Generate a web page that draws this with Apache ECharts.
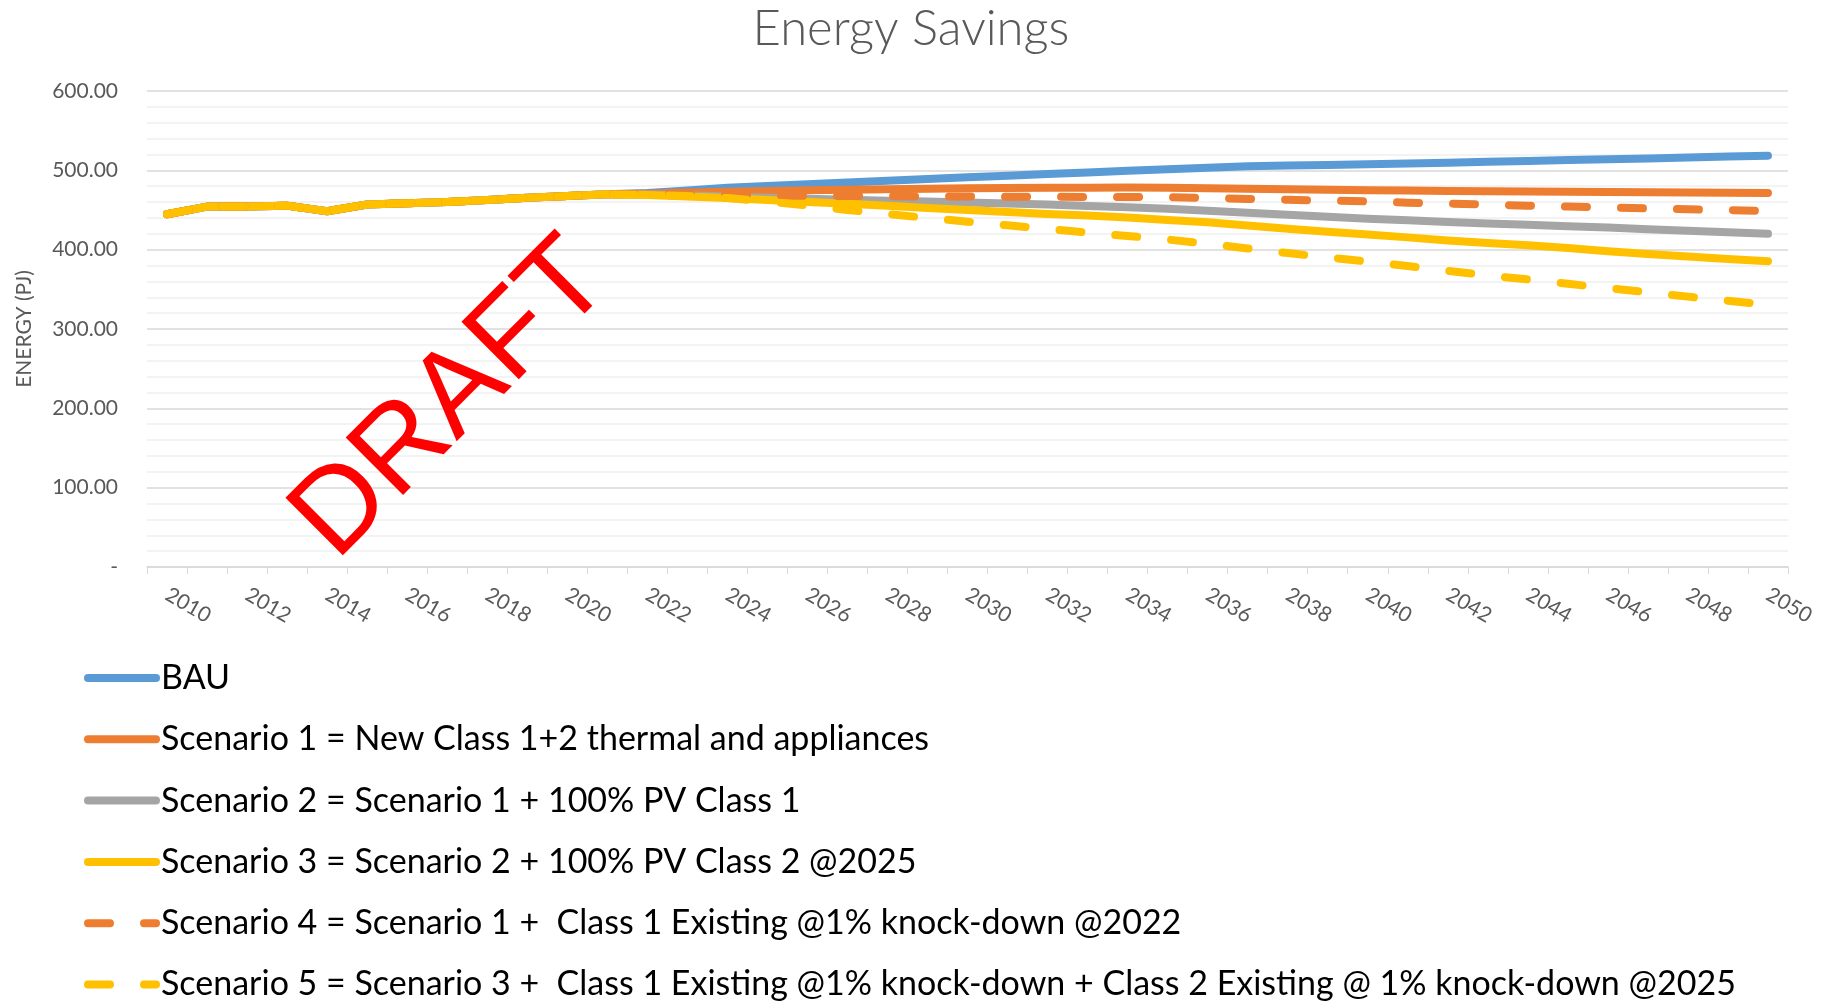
<!DOCTYPE html>
<html><head><meta charset="utf-8">
<script src="https://cdn.jsdelivr.net/npm/echarts@6/dist/echarts.min.js"></script>
<style>html,body{margin:0;padding:0;background:#fff}#c{width:1822px;height:1003px}</style>
</head><body><div id="c"></div>
<script>
const years = ['2010','2011','2012','2013','2014','2015','2016','2017','2018','2019','2020',
  '2021','2022','2023','2024','2025','2026','2027','2028','2029','2030','2031','2032','2033',
  '2034','2035','2036','2037','2038','2039','2040','2041','2042','2043','2044','2045','2046',
  '2047','2048','2049','2050'];
// shared history 2010-2021
const history = [444.6, 454.3, 454.5, 455.5, 448.5, 457.0, 458.4, 460.1, 462.6, 465.5, 467.7, 469.8];
// projections 2022-2050
const bau = [471.5, 474.5, 478.0, 480.2, 482.4, 484.6, 486.8, 489.0, 491.2, 493.3, 495.3, 497.4, 499.4, 501.4, 503.4, 505.0, 506.0, 506.8, 507.6, 508.6, 509.7, 510.8, 511.8, 512.9, 513.9, 515.0, 516.2, 517.3, 518.5];
const sc1 = [470.5, 472.0, 473.0, 474.0, 474.8, 475.5, 476.2, 476.8, 477.3, 477.7, 478.0, 478.2, 478.3, 478.0, 477.4, 476.8, 476.2, 475.5, 474.9, 474.5, 474.1, 473.7, 473.4, 473.0, 472.7, 472.4, 472.0, 471.7, 471.4];
const sc2 = [469.5, 468.5, 467.0, 465.5, 464.3, 463.0, 461.8, 460.6, 459.4, 458.2, 457.0, 455.0, 453.5, 451.5, 449.2, 446.5, 444.0, 441.5, 439.0, 437.0, 435.0, 433.0, 431.5, 429.5, 427.8, 425.8, 423.8, 421.9, 420.0];
const sc3 = [469.0, 467.0, 465.0, 462.6, 460.2, 457.8, 455.3, 452.5, 450.0, 447.5, 445.0, 443.0, 440.5, 437.5, 434.5, 430.5, 426.5, 422.5, 419.0, 415.5, 411.5, 408.3, 405.5, 402.0, 398.0, 394.5, 391.3, 388.3, 385.3];
const sc4 = [470.5, 470.0, 469.3, 468.5, 468.0, 467.7, 467.3, 467.0, 466.9, 466.8, 466.6, 466.5, 466.5, 466.2, 465.3, 464.0, 462.9, 461.9, 460.8, 459.2, 458.1, 456.9, 455.4, 454.3, 453.2, 452.0, 450.8, 449.9, 448.8];
const sc5 = [469.0, 467.5, 465.0, 461.0, 455.5, 450.0, 445.0, 440.0, 435.3, 430.7, 426.0, 421.5, 417.2, 412.8, 407.3, 401.5, 395.7, 390.2, 385.0, 379.4, 373.3, 367.5, 362.5, 357.0, 351.5, 346.2, 340.8, 335.7, 330.5];
const seriesNames = [
  'BAU',
  'Scenario 1 = New Class 1+2 thermal and appliances',
  'Scenario 2 = Scenario 1 + 100% PV Class 1',
  'Scenario 3 = Scenario 2 + 100% PV Class 2 @2025',
  'Scenario 4 = Scenario 1 +  Class 1 Existing @1% knock-down @2022',
  'Scenario 5 = Scenario 3 +  Class 1 Existing @1% knock-down + Class 2 Existing @ 1% knock-down @2025'
];
const yTickValues = [0, 100, 200, 300, 400, 500, 600];
const yTickLabels = ['-', '100.00', '200.00', '300.00', '400.00', '500.00', '600.00'];

const FONT = 'Lato, "Liberation Sans", sans-serif';
const colors = ['#5B9BD5', '#ED7D31', '#A5A5A5', '#FFC000', '#ED7D31', '#FFC000'];
const tails = [bau, sc1, sc2, sc3, sc4, sc5];
const dashed = [false, false, false, false, true, true];

const series = seriesNames.map((n, i) => ({
  name: n, type: 'line', symbol: 'none', color: colors[i],
  data: history.concat(tails[i]),
  lineStyle: { color: colors[i], width: 8, cap: 'round', join: 'round', type: dashed[i] ? [22, 34] : 'solid' },
  emphasis: { disabled: true }
}));

const chart = echarts.init(document.getElementById('c'), null, { renderer: 'canvas' });
chart.setOption({
  animation: false,
  backgroundColor: '#fff',
  title: { text: 'Energy Savings', left: 'center', top: 0,
    textStyle: { fontFamily: FONT, fontSize: 49, fontWeight: 300, color: '#595959' } },
  grid: { left: 147, right: 34, top: 91, bottom: 436 },
  xAxis: {
    type: 'category', data: years, boundaryGap: true,
    axisLine: { lineStyle: { color: '#d9d9d9', width: 1.5 } },
    axisTick: { show: true, interval: 0, length: 7, lineStyle: { color: '#d9d9d9' } },
    axisLabel: { interval: 1, rotate: -30, margin: 26, fontFamily: FONT, fontSize: 21, color: '#595959' },
    splitLine: { show: false }
  },
  yAxis: {
    type: 'value', min: 0, max: 600, interval: 100,
    name: 'ENERGY (PJ)', nameLocation: 'middle', nameGap: 112,
    nameTextStyle: { fontFamily: FONT, fontSize: 21, color: '#595959' },
    axisLine: { show: false }, axisTick: { show: false },
    axisLabel: { margin: 29, fontFamily: FONT, fontSize: 21, color: '#595959',
      formatter: v => { const k = yTickValues.indexOf(v); return k >= 0 ? yTickLabels[k] : ''; } },
    splitLine: { lineStyle: { color: '#d9d9d9', width: 1.5 } },
    minorTick: { show: false, splitNumber: 5 },
    minorSplitLine: { show: true, lineStyle: { color: '#efefef', width: 1.5 } }
  },
  legend: {
    orient: 'vertical', left: 84, top: 660, padding: 0, itemWidth: 68, itemHeight: 20, itemGap: 25.3,
    data: seriesNames, selectedMode: false,
    itemStyle: { opacity: 0 },
    lineStyle: { width: 8, cap: 'round' },
    textStyle: { fontFamily: FONT, fontSize: 34, color: '#000', lineHeight: 36 }
  },
  series: series,
  graphic: [{
    type: 'text', x: 452, y: 400, rotation: Math.PI / 4, z: 100,
    style: { text: 'DRAFT', font: 'normal 118px "Liberation Sans", sans-serif',
      fill: '#ff0000', align: 'center', verticalAlign: 'middle',
      shadowBlur: 4, shadowColor: 'rgba(0,0,0,0.35)', shadowOffsetX: 3, shadowOffsetY: 3 }
  }]
});
</script>
</body></html>
